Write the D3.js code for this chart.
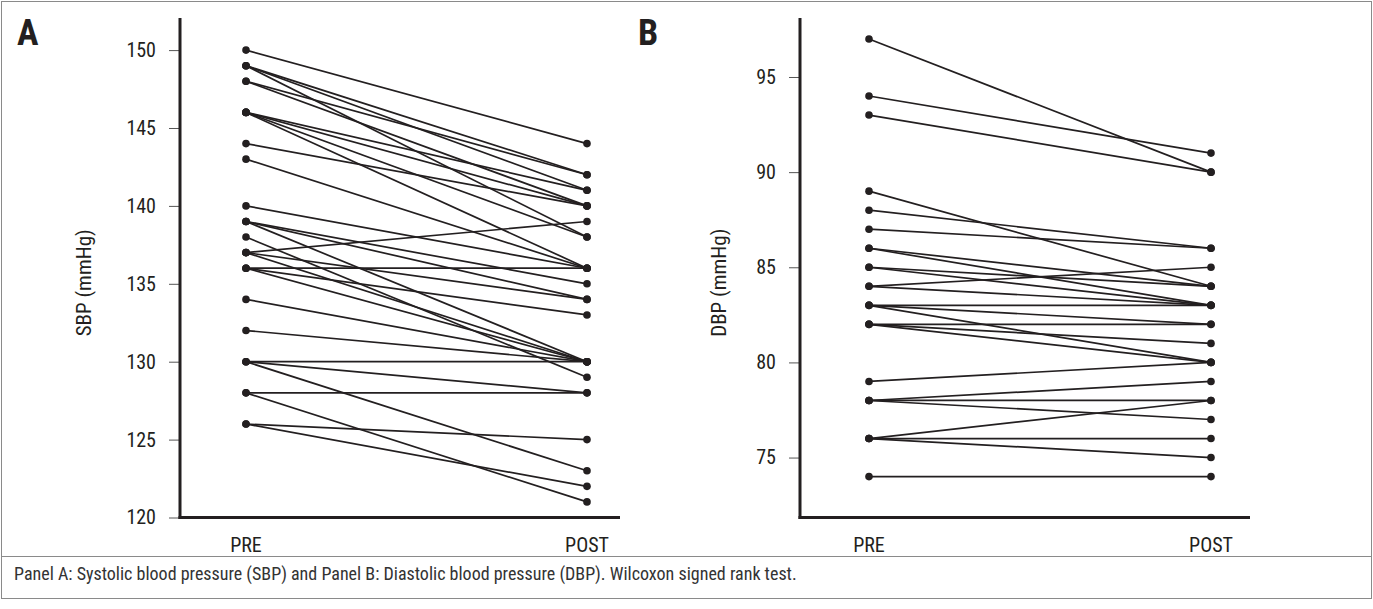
<!DOCTYPE html>
<html><head><meta charset="utf-8">
<script src="https://cdn.jsdelivr.net/npm/d3@7"></script>
<style>
html,body{margin:0;padding:0;background:#fff;}
svg{display:block;}
text{font-family:"Liberation Sans Narrow","Arial Narrow","Roboto Condensed","Liberation Sans",sans-serif;fill:#231f20;}
</style></head>
<body>
<svg id="chart" width="1373" height="609"></svg>
<script>
// ---------- data ----------
const timepoints = ["PRE", "POST"];
// Panel A: systolic blood pressure (mmHg), one entry per subject
const sbpPre  = [150,149,149,149,148,148,146,146,146,146,144,143,140,139,139,139,138,137,137,137,136,136,136,134,132,130,130,130,128,128,126,126];
const sbpPost = [144,142,141,138,142,140,141,140,138,136,140,136,136,135,134,130,129,139,134,130,136,133,130,130,130,130,128,123,128,121,125,122];
const sbpTicks = [120,125,130,135,140,145,150];
// Panel B: diastolic blood pressure (mmHg)
const dbpPre  = [97,94,93,89,88,87,86,86,85,85,84,84,83,83,83,82,82,82,79,78,78,78,76,76,76,74];
const dbpPost = [90,91,90,84,86,86,84,83,84,83,85,83,83,82,80,82,81,80,80,79,78,77,78,76,75,74];
const dbpTicks = [75,80,85,90,95];
const panelLabels = ["A","B"];
const yTitles = ["SBP (mmHg)","DBP (mmHg)"];
const caption = "Panel A: Systolic blood pressure (SBP) and Panel B: Diastolic blood pressure (DBP). Wilcoxon signed rank test.";

const svg = d3.select("#chart");
const ink = "#231f20";

// figure frame
svg.append("rect").attr("x",1.5).attr("y",1.5).attr("width",1370).attr("height",597)
  .attr("fill","none").attr("stroke","#8a8a8a").attr("stroke-width",1);
svg.append("line").attr("x1",1.5).attr("x2",1371.5).attr("y1",556.5).attr("y2",556.5)
  .attr("stroke","#8a8a8a").attr("stroke-width",1);

svg.append("text").attr("x",14).attr("y",580).attr("font-size",18).style("fill","#333")
  .text(caption);

function panel(cfg){
  const g = svg.append("g");
  const x = d3.scalePoint().domain(timepoints).range([cfg.preX, cfg.postX]);
  const y = d3.scaleLinear().domain(cfg.domain).range([cfg.bottom, cfg.top]);

  // y axis
  const ax = d3.axisLeft(y).tickValues(cfg.ticks).tickSize(11).tickPadding(13).tickFormat(d3.format("d"));
  const ag = g.append("g").attr("transform",`translate(${cfg.axisX},0)`).call(ax);
  ag.select(".domain").remove();
  ag.selectAll(".tick line").attr("stroke","#555").attr("stroke-width",1);
  ag.selectAll(".tick text").attr("font-size",20).style("font-family",null).attr("font-family",null);
  g.append("line").attr("x1",cfg.axisX).attr("x2",cfg.axisX).attr("y1",cfg.top).attr("y2",cfg.bottom+1.5)
    .attr("stroke",ink).attr("stroke-width",3);
  // x axis
  g.append("line").attr("x1",cfg.axisX-1.5).attr("x2",cfg.axisEnd).attr("y1",cfg.bottom).attr("y2",cfg.bottom)
    .attr("stroke",ink).attr("stroke-width",3);
  g.selectAll("text.xl").data(timepoints).join("text").attr("class","xl")
    .attr("x",d=>x(d)).attr("y",cfg.bottom+34).attr("text-anchor","middle").attr("font-size",20).text(d=>d);

  // labels
  g.append("text").attr("x",cfg.labelX).attr("y",45).attr("font-size",36).attr("font-weight","bold").text(cfg.label);
  g.append("text").attr("transform",`translate(${cfg.titleX},${(cfg.top+cfg.bottom)/2 + 15}) rotate(-90)`)
    .attr("text-anchor","middle").attr("font-size",21).text(cfg.title);

  // paired lines
  const pairs = cfg.pre.map((v,i)=>({pre:v, post:cfg.post[i]}));
  g.selectAll("line.pair").data(pairs).join("line").attr("class","pair")
    .attr("x1",x("PRE")).attr("x2",x("POST"))
    .attr("y1",d=>y(d.pre)).attr("y2",d=>y(d.post))
    .attr("stroke",ink).attr("stroke-width",1.7);
  const dots = [];
  pairs.forEach(d=>{dots.push({t:"PRE",v:d.pre});dots.push({t:"POST",v:d.post});});
  g.selectAll("circle").data(dots).join("circle")
    .attr("cx",d=>x(d.t)).attr("cy",d=>y(d.v)).attr("r",3.8).attr("fill",ink);
}

panel({pre:sbpPre, post:sbpPost, ticks:sbpTicks, domain:[120,152.06], top:18, bottom:517.5,
  axisX:180, axisEnd:620, preX:246, postX:587, label:panelLabels[0], labelX:17, title:yTitles[0], titleX:91});
panel({pre:dbpPre, post:dbpPost, ticks:dbpTicks, domain:[71.85,98.1], top:18, bottom:517.5,
  axisX:800, axisEnd:1250, preX:869, postX:1211, label:panelLabels[1], labelX:638, title:yTitles[1], titleX:726});
</script>
</body></html>
